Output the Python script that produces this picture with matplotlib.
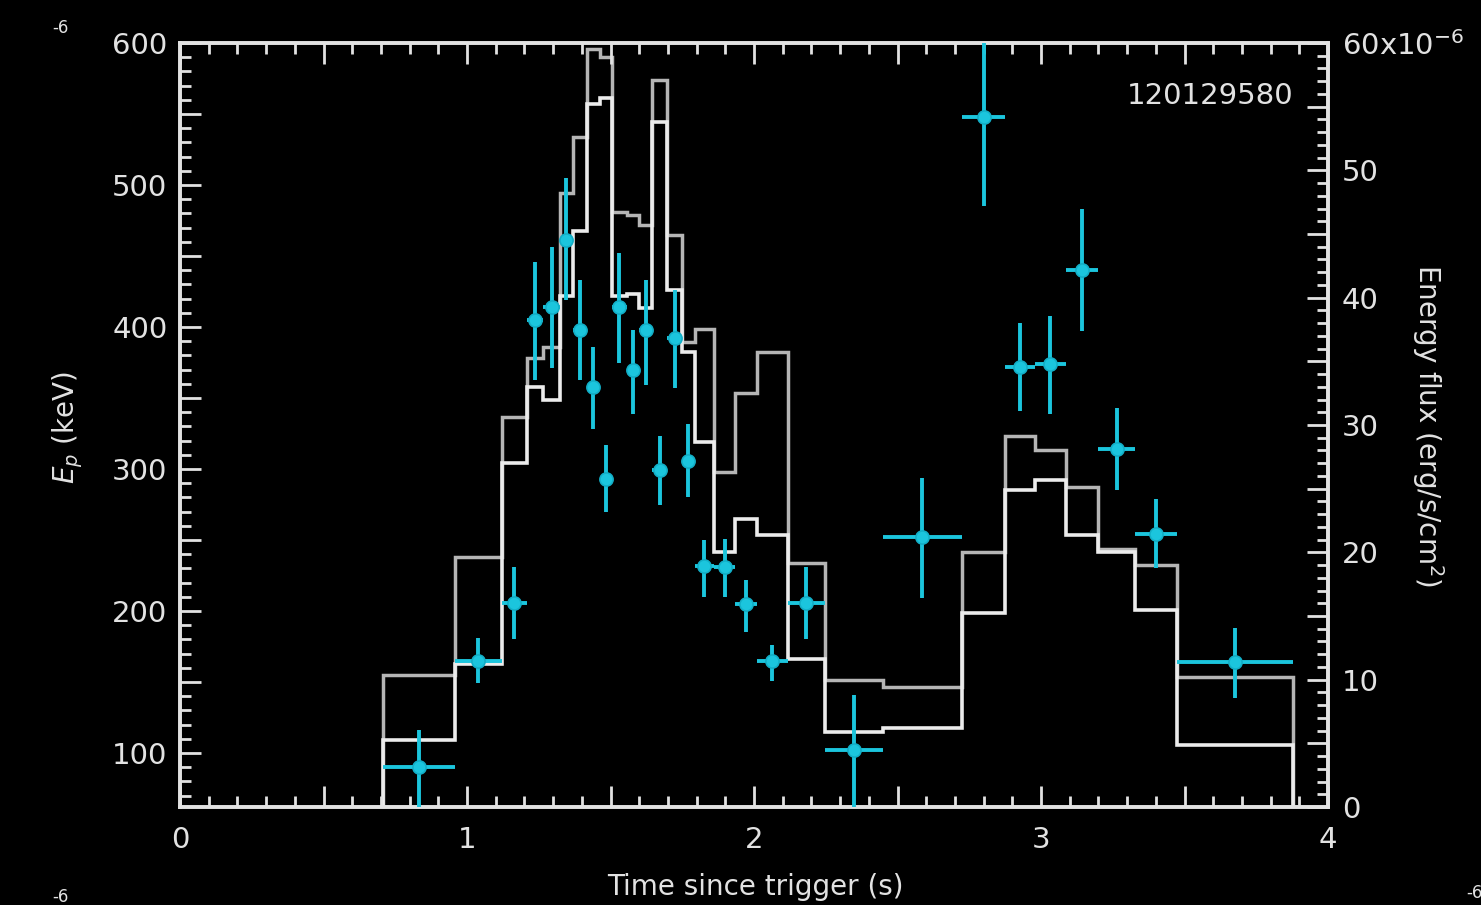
import matplotlib
matplotlib.use("Agg")
import matplotlib.pyplot as plt
from matplotlib.ticker import MultipleLocator, FuncFormatter

# Time-bin edges (s since trigger), shared by the spectral fits and the flux curves
bin_edges = [0.707, 0.958, 1.122, 1.209, 1.265, 1.324, 1.369, 1.418, 1.463, 1.505,
             1.557, 1.599, 1.645, 1.697, 1.749, 1.794, 1.861, 1.934, 2.010, 2.118,
             2.247, 2.449, 2.725, 2.875, 2.979, 3.087, 3.199, 3.328, 3.474, 3.878]

# Peak energy of each time-resolved spectrum (keV) and its 1-sigma errors
ep_kev = [90, 165, 206, 405, 414, 461, 398, 358, 293, 414, 370, 398, 299, 392, 306,
          232, 231, 205, 165, 206, 102, 252, 548, 372, 374, 440, 314, 254, 164]
ep_err_lo = [30, 16, 26, 42, 43, 42, 35, 30, 23, 39, 31, 39, 24, 35, 26,
             22, 21, 20, 14, 26, 45, 43, 63, 31, 35, 43, 29, 24, 25]
ep_err_hi = [26, 16, 25, 41, 42, 44, 35, 28, 24, 38, 28, 35, 24, 34, 26,
             18, 20, 17, 11, 25, 39, 42, 60, 31, 34, 43, 29, 25, 24]

# Energy flux per bin for the two spectral models, in units of 1e-6 erg/s/cm^2
flux_model_a = [10.4, 19.6, 30.6, 35.3, 36.1, 48.2, 52.6, 59.5, 58.9, 46.7, 46.5, 45.7,
                57.1, 44.9, 36.5, 37.5, 26.3, 32.5, 35.7, 19.2, 10.0, 9.4, 20.0, 29.1,
                28.0, 25.1, 20.3, 19.0, 10.2]
flux_model_b = [5.3, 11.2, 27.0, 33.0, 32.0, 40.1, 45.2, 55.2, 55.7, 40.1, 40.3, 39.2,
                53.8, 40.6, 35.7, 28.7, 20.0, 22.6, 21.4, 11.6, 5.9, 6.2, 15.2, 24.9,
                25.7, 21.4, 20.0, 15.5, 4.9]

burst_name = "120129580"
flux_ticklabels = ["0", "10", "20", "30", "40", "50", r"60x10$^{-6}$"]

FG = "#e2e2e2"
CYAN = "#1bc5dd"
FONT = "DejaVu Sans"

plt.rcParams["font.family"] = FONT

fig = plt.figure(figsize=(14.81, 9.05), dpi=100, facecolor="black")
ax = fig.add_axes([180 / 1481, 1 - 807 / 905, (1328 - 180) / 1481, (807 - 43) / 905])
ax.set_facecolor("black")
ax2 = ax.twinx()
ax.set_zorder(ax2.get_zorder() + 1)
ax.patch.set_visible(False)

# Energy flux step curves on the right-hand axis
ax2.stairs(flux_model_a, bin_edges, baseline=0, fill=False, color="#b5b5b5", lw=2.5)
ax2.stairs(flux_model_b, bin_edges, baseline=0, fill=False, color="#ececec", lw=2.6)
ax2.set_ylim(0, 60)

# Peak energies with time-bin widths as horizontal bars
centers = [(a + b) / 2 for a, b in zip(bin_edges[:-1], bin_edges[1:])]
half_w = [(b - a) / 2 for a, b in zip(bin_edges[:-1], bin_edges[1:])]
ax.errorbar(centers, ep_kev, xerr=half_w, yerr=[ep_err_lo, ep_err_hi],
            fmt="o", color=CYAN, ms=9.5, mec="#12aec6", mew=1.2,
            elinewidth=2.8, capsize=0, zorder=5)

ax.set_xlim(0, 4)
ax.set_ylim(62, 600)

for a in (ax, ax2):
    for s in a.spines.values():
        s.set_color(FG)
        s.set_linewidth(2.6)

# x axis: ticks every 0.5 s (labelled on whole seconds), minor every 0.1 s
ax.xaxis.set_major_locator(MultipleLocator(0.5))
ax.xaxis.set_minor_locator(MultipleLocator(0.1))
ax.xaxis.set_major_formatter(FuncFormatter(
    lambda v, p: f"{v:.0f}" if abs(v - round(v)) < 1e-6 else ""))
ax.yaxis.set_major_locator(MultipleLocator(50))
ax.yaxis.set_minor_locator(MultipleLocator(10))
ax.yaxis.set_major_formatter(FuncFormatter(
    lambda v, p: f"{v:.0f}" if abs(v % 100) < 1e-6 else ""))
ax.tick_params(axis="both", which="both", direction="in", colors=FG,
               top=True, bottom=True, left=True, right=False, labelsize=21)
ax.tick_params(axis="both", which="major", length=15, width=2)
ax.tick_params(axis="both", which="minor", length=8, width=2)
ax.tick_params(axis="x", pad=14)
ax.tick_params(axis="y", pad=9)

ax2.yaxis.set_major_locator(MultipleLocator(5))
ax2.yaxis.set_minor_locator(MultipleLocator(1))
ax2.yaxis.set_major_formatter(FuncFormatter(
    lambda v, p: flux_ticklabels[int(round(v / 10))] if abs(v % 10) < 1e-6 else ""))
ax2.tick_params(axis="y", which="both", direction="in", colors=FG, labelsize=21, pad=10)
ax2.tick_params(axis="y", which="major", length=15, width=2)
ax2.tick_params(axis="y", which="minor", length=8, width=2)

# Axis titles and burst identifier
fig.text(755 / 1481, 1 - 887 / 905, "Time since trigger (s)", color=FG,
         fontsize=20, ha="center", va="center")
fig.text(68 / 1481, 1 - 428 / 905, r"$E_p$ (keV)", color=FG, fontsize=20,
         rotation=90, ha="center", va="center")
fig.text(1428 / 1481, 1 - 425 / 905, r"Energy flux (erg/s/cm$^2$)", color=FG,
         fontsize=20, rotation=-90, ha="center", va="center")
ax.text(0.97, 0.93, burst_name, transform=ax.transAxes, color=FG,
        fontsize=21, ha="right", va="center")

# Exponent fragments from neighbouring panels at the figure edges
fig.text(60 / 1481, 1 - 28 / 905, "-6", color=FG, fontsize=12, ha="center", va="center")
fig.text(60 / 1481, 1 - 897 / 905, "-6", color=FG, fontsize=12, ha="center", va="center")
fig.text(1474 / 1481, 1 - 893 / 905, "-6", color=FG, fontsize=12, ha="center", va="center")

fig.savefig("out.png", dpi=100, facecolor="black")
